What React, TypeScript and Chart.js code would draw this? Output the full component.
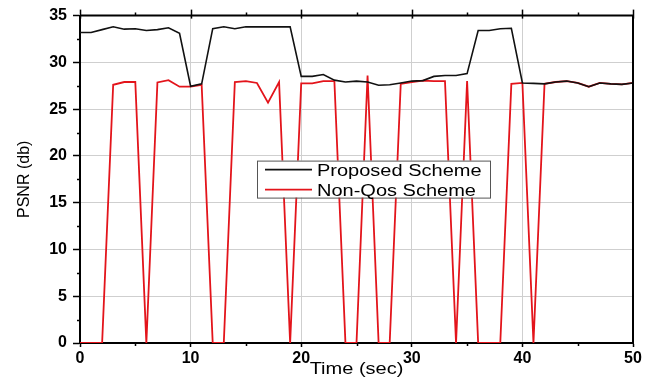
import React, { useEffect, useRef } from "react";
import { Chart, registerables } from "chart.js";

Chart.register(...registerables);

const timeSec = [
  0, 1, 2, 3, 4, 5, 6, 7, 8, 9, 10, 11, 12, 13, 14, 15, 16, 17, 18, 19, 20,
  21, 22, 23, 24, 25, 26, 27, 28, 29, 30, 31, 32, 33, 34, 35, 36, 37, 38, 39,
  40, 41, 42, 43, 44, 45, 46, 47, 48, 49, 50,
];

const proposedScheme = [
  33.2, 33.2, 33.5, 33.8, 33.55, 33.6, 33.4, 33.5, 33.7, 33.1, 27.45, 27.7,
  33.6, 33.8, 33.6, 33.8, 33.8, 33.8, 33.8, 33.8, 28.5, 28.5, 28.7, 28.1,
  27.9, 28.0, 27.9, 27.55, 27.6, 27.8, 28.0, 28.05, 28.5, 28.6, 28.6, 28.8,
  33.4, 33.4, 33.6, 33.65, 27.8, 27.75, 27.7, 27.9, 28.0, 27.8, 27.4, 27.8,
  27.7, 27.65, 27.8,
];

const nonQosScheme = [
  0, 0, 0, 27.6, 27.9, 27.9, 0, 27.85, 28.1, 27.4, 27.4, 27.6, 0, 0, 27.9,
  28.0, 27.8, 25.7, 27.9, 0, 27.75, 27.75, 28.0, 28.0, 0, 0, 28.6, 0, 0, 27.7,
  27.9, 28.05, 28.0, 28.0, 0, 28.0, 0, 0, 0, 27.7, 27.8, 0, 27.7, 27.9, 28.0,
  27.8, 27.4, 27.8, 27.7, 27.65, 27.8,
];

const seriesLabels = ["Proposed Scheme", "Non-Qos Scheme"];
const xTitle = "Time (sec)";
const yTitle = "PSNR (db)";

const FONT = '"Liberation Sans", Arial, sans-serif';
const STRETCH = 1.25;

const decorPlugin = {
  id: "decor",
  afterDraw(chart: any) {
    const { ctx, chartArea, scales } = chart;
    const xs = scales.x;
    const ys = scales.y;
    const { left, right, top, bottom } = chartArea;
    ctx.save();
    ctx.strokeStyle = "#000";
    ctx.lineWidth = 2;
    // top and right border
    ctx.beginPath();
    ctx.moveTo(left, top);
    ctx.lineTo(right, top);
    ctx.moveTo(right, top);
    ctx.lineTo(right, bottom);
    ctx.stroke();

    ctx.lineWidth = 1.5;
    // x ticks: minor every 5, majors every 10
    for (let v = xs.min; v <= xs.max; v += 5) {
      const px = Math.round(xs.getPixelForValue(v)) + 0.5;
      const major = v % 10 === 0;
      ctx.beginPath();
      if (major) {
        ctx.moveTo(px, top - 6);
        ctx.lineTo(px, top + 3);
      } else {
        ctx.moveTo(px, top - 3);
        ctx.lineTo(px, top);
        ctx.moveTo(px, bottom);
        ctx.lineTo(px, bottom + 3);
      }
      ctx.stroke();
    }
    // y minor ticks
    for (let v = ys.min + 2.5; v < ys.max; v += 5) {
      const py = Math.round(ys.getPixelForValue(v)) + 0.5;
      ctx.beginPath();
      ctx.moveTo(left - 3, py);
      ctx.lineTo(left, py);
      ctx.stroke();
    }

    // x title (stretched horizontally like the source figure)
    ctx.fillStyle = "#000";
    ctx.font = `16px ${FONT}`;
    ctx.textAlign = "center";
    ctx.textBaseline = "middle";
    ctx.save();
    ctx.translate((left + right) / 2, 370);
    ctx.scale(STRETCH, 1);
    ctx.fillText(xTitle, 0, 0);
    ctx.restore();

    // legend box
    const lx = left + 177;
    const ly = top + 145;
    const lw = 233;
    const lh = 37;
    ctx.fillStyle = "#fff";
    ctx.fillRect(lx, ly, lw, lh);
    ctx.strokeStyle = "#555";
    ctx.lineWidth = 1;
    ctx.strokeRect(lx + 0.5, ly + 0.5, lw, lh);
    chart.data.datasets.forEach((ds: any, i: number) => {
      const rowY = ly + 9 + i * 20;
      ctx.strokeStyle = ds.borderColor;
      ctx.lineWidth = 1.8;
      ctx.beginPath();
      ctx.moveTo(lx + 8, rowY);
      ctx.lineTo(lx + 55, rowY);
      ctx.stroke();
      ctx.fillStyle = "#000";
      ctx.font = `16px ${FONT}`;
      ctx.textAlign = "left";
      ctx.textBaseline = "alphabetic";
      ctx.save();
      ctx.translate(lx + 60, rowY + 6.5);
      ctx.scale(STRETCH, 1);
      ctx.fillText(ds.label, 0, 0);
      ctx.restore();
    });
    ctx.restore();
  },
};

export default function App() {
  const ref = useRef<HTMLCanvasElement | null>(null);

  useEffect(() => {
    if (!ref.current) return;
    const chart = new Chart(ref.current, {
      type: "line",
      data: {
        datasets: [
          {
            label: seriesLabels[0],
            data: timeSec.map((t, i) => ({ x: t, y: proposedScheme[i] })),
            borderColor: "#111111",
            backgroundColor: "#111111",
            borderWidth: 1.6,
            pointRadius: 0,
            tension: 0,
          },
          {
            label: seriesLabels[1],
            data: timeSec.map((t, i) => ({ x: t, y: nonQosScheme[i] })),
            borderColor: "#e3141b",
            backgroundColor: "#e3141b",
            borderWidth: 1.8,
            pointRadius: 0,
            tension: 0,
          },
        ],
      },
      options: {
        animation: false,
        responsive: false,
        maintainAspectRatio: false,
        layout: { padding: { top: 13, right: 22, left: 0, bottom: 0 } },
        plugins: {
          legend: { display: false },
          tooltip: { enabled: false },
        },
        scales: {
          x: {
            type: "linear",
            min: 0,
            max: 50,
            afterFit: (s: any) => {
              s.height = 38;
            },
            ticks: {
              stepSize: 10,
              color: "#000",
              padding: 2,
              maxRotation: 0,
              font: { family: FONT, size: 16, weight: "bold" },
            },
            grid: {
              color: "#cfcfcf",
              lineWidth: 1,
              tickColor: "#000",
              tickLength: 4,
              tickWidth: 1.5,
            },
            border: { color: "#000", width: 2 },
            title: { display: false },
          },
          y: {
            type: "linear",
            min: 0,
            max: 35,
            afterFit: (s: any) => {
              s.width = 80;
            },
            ticks: {
              stepSize: 5,
              color: "#000",
              padding: 6,
              font: { family: FONT, size: 16, weight: "bold" },
            },
            grid: {
              color: "#cfcfcf",
              lineWidth: 1,
              tickColor: "#000",
              tickLength: 7,
              tickWidth: 1.5,
            },
            border: { color: "#000", width: 2 },
            title: {
              display: true,
              text: yTitle,
              color: "#000",
              font: { family: FONT, size: 16, weight: "normal" },
              padding: { top: 15, bottom: 0 },
            },
          },
        },
      },
      plugins: [decorPlugin],
    });
    return () => chart.destroy();
  }, []);

  return (
    <div
      style={{
        position: "fixed",
        left: 0,
        top: 0,
        width: 655,
        height: 381,
        background: "#fff",
      }}
    >
      <canvas ref={ref} width={655} height={381} />
    </div>
  );
}
